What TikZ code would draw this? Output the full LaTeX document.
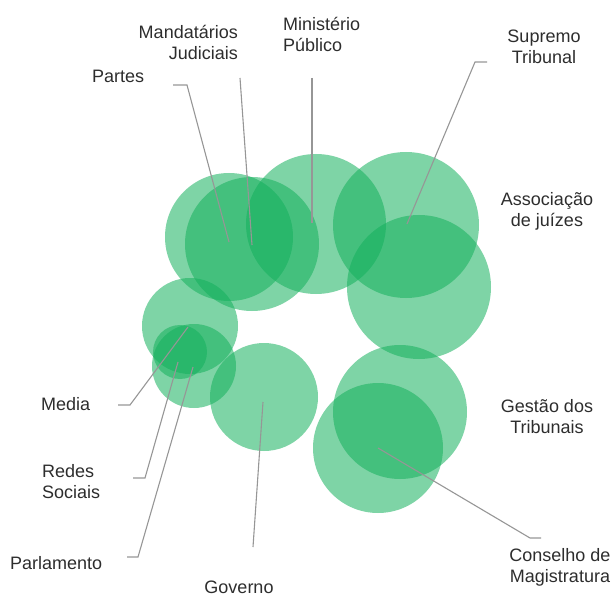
\documentclass[tikz,border=0pt]{standalone}
\usepackage{fontspec}
\setmainfont{Liberation Sans}
\begin{document}
\begin{tikzpicture}[x=1pt,y=-1pt,
  bub/.style={fill=bubgreen,fill opacity=0.55,draw=none},
  lead/.style={draw=leadgray,line width=1.1pt},
  lbl/.style={text=txtgray,font=\fontsize{18}{21}\selectfont,inner sep=0pt,align=center}]
\definecolor{bubgreen}{RGB}{20,176,92}
\definecolor{leadgray}{RGB}{150,150,150}
\definecolor{txtgray}{RGB}{45,45,45}
\useasboundingbox (0,0) rectangle (613,596);
% bubbles
\fill[bub] (229,237) circle (64);
\fill[bub] (252,244) circle (67);
\fill[bub] (316,224) circle (70);
\fill[bub] (406,225) circle (73);
\fill[bub] (419,287) circle (72);
\fill[bub] (190,326) circle (48);
\fill[bub] (194,366) circle (42);
\fill[bub] (180,352) circle (27);
\fill[bub] (264,397) circle (54);
\fill[bub] (400,412) circle (67);
\fill[bub] (378,448) circle (65);
% anchor coordinates inside bubbles
\coordinate (pA) at (229,242);
\coordinate (mA) at (252,245);
\coordinate (mpA) at (312,223);
\coordinate (sA) at (407,224);
\coordinate (meA) at (188,327);
\coordinate (rA) at (178,362);
\coordinate (plA) at (193,367);
\coordinate (gA) at (263,402);
\coordinate (cA) at (378,448);
% leader ends
\coordinate (pB) at (173,85);
\coordinate (pC) at (187,85);
\coordinate (mB) at (240,78);
\coordinate (mpB) at (312,78);
\coordinate (sB) at (487,62);
\coordinate (sC) at (475,62);
\coordinate (meB) at (118,405);
\coordinate (meC) at (130,405);
\coordinate (rB) at (133,478);
\coordinate (rC) at (145,478);
\coordinate (plB) at (127,557);
\coordinate (plC) at (138,557);
\coordinate (gB) at (253,547);
\coordinate (cB) at (530,538);
\coordinate (cC) at (541,538);
% leaders
\draw[lead] (pB) -- (pC) -- (pA);
\draw[lead] (mB) -- (mA);
\draw[lead] (mpB) -- (mpA);
\draw[lead] (sB) -- (sC) -- (sA);
\draw[lead] (meB) -- (meC) -- (meA);
\draw[lead] (rB) -- (rC) -- (rA);
\draw[lead] (plB) -- (plC) -- (plA);
\draw[lead] (gA) -- (gB);
\draw[lead] (cA) -- (cB) -- (cC);
% labels
\node[lbl,align=right,anchor=east] (tM) at (238,42) {Mandatários\\Judiciais};
\node[lbl,align=left,anchor=west] (tMP) at (283,34) {Ministério\\Público};
\node[lbl,anchor=west] (tP) at (92,76) {Partes};
\node[lbl] (tS) at (544,47) {Supremo\\Tribunal};
\node[lbl] (tA) at (547,211) {Associação\\de juízes};
\node[lbl,anchor=west] (tMe) at (41,404) {Media};
\node[lbl,align=left,anchor=west] (tR) at (42,482) {Redes\\Sociais};
\node[lbl,anchor=west] (tPl) at (10,563) {Parlamento};
\node[lbl] (tG) at (239,587) {Governo};
\node[lbl] (tGe) at (547,417) {Gestão dos\\Tribunais};
\node[lbl] (tC) at (560,567) {Conselho de\\Magistratura};
\end{tikzpicture}
\end{document}
